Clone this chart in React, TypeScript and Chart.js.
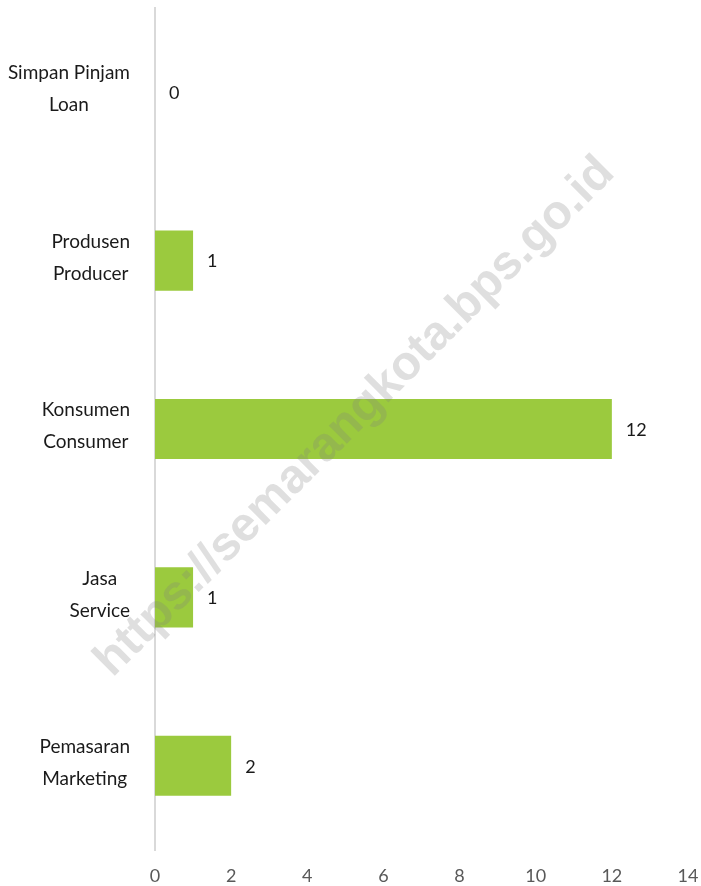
import React, { useEffect, useRef } from "react";
import { Chart, registerables } from "chart.js";

Chart.register(...registerables);

const labelsLocal = ["Simpan Pinjam", "Produsen", "Konsumen", "Jasa", "Pemasaran"];
const labelsEnglish = ["Loan", "Producer", "Consumer", "Service", "Marketing"];
const counts = [0, 1, 12, 1, 2];
const xMin = 0;
const xMax = 14;
const xStep = 2;
const watermarkText = "https://semarangkota.bps.go.id";

const FONT = "Lato, 'Open Sans', sans-serif";

const catLabelPlugin = {
  id: "catLabels",
  afterDraw(chart: any) {
    const { ctx } = chart;
    const yScale = chart.scales.y;
    const rightEdge = 130;
    const lineGap = 32;
    ctx.save();
    ctx.font = `19px ${FONT}`;
    ctx.fillStyle = "#1a1a1a";
    ctx.textAlign = "center";
    ctx.textBaseline = "middle";
    labelsLocal.forEach((l1, i) => {
      const l2 = labelsEnglish[i];
      const w = Math.max(ctx.measureText(l1).width, ctx.measureText(l2).width);
      const cx = rightEdge - w / 2;
      const cy = yScale.getPixelForValue(i) - 3;
      ctx.fillText(l1, cx, cy - lineGap / 2);
      ctx.fillText(l2, cx, cy + lineGap / 2);
    });
    ctx.restore();
  },
};

const valueLabelPlugin = {
  id: "valueLabels",
  afterDatasetsDraw(chart: any) {
    const { ctx } = chart;
    const meta = chart.getDatasetMeta(0);
    ctx.save();
    ctx.font = `18px ${FONT}`;
    ctx.fillStyle = "#1a1a1a";
    ctx.textAlign = "left";
    ctx.textBaseline = "middle";
    meta.data.forEach((bar: any, i: number) => {
      ctx.fillText(String(counts[i]), bar.x + 14, bar.y + 1);
    });
    ctx.restore();
  },
};

const watermarkPlugin = {
  id: "watermark",
  afterDraw(chart: any) {
    const { ctx } = chart;
    ctx.save();
    ctx.translate(355, 417);
    ctx.rotate(-Math.PI / 4);
    ctx.font = `bold 48px 'Liberation Sans', Arial, sans-serif`;
    ctx.fillStyle = "rgba(128,128,128,0.25)";
    ctx.textAlign = "center";
    ctx.textBaseline = "middle";
    ctx.fillText(watermarkText, 0, 0);
    ctx.restore();
  },
};

export default function App() {
  const ref = useRef<HTMLCanvasElement>(null);

  useEffect(() => {
    if (!ref.current) return;
    const chart = new Chart(ref.current, {
      type: "bar",
      data: {
        labels: labelsLocal,
        datasets: [
          {
            data: counts,
            backgroundColor: "#9bca3e",
            borderWidth: 0,
            barPercentage: 0.357,
            categoryPercentage: 1,
          },
        ],
      },
      options: {
        indexAxis: "y",
        animation: false,
        responsive: true,
        maintainAspectRatio: false,
        layout: { padding: { top: 8, right: 0, left: 0, bottom: 0 } },
        plugins: {
          legend: { display: false },
          tooltip: { enabled: false },
        },
        scales: {
          x: {
            min: xMin,
            max: xMax,
            grid: { display: false, drawTicks: false },
            border: { display: false },
            ticks: {
              stepSize: xStep,
              color: "#595959",
              font: { family: FONT, size: 18 },
              padding: 15,
            },
            afterFit(scale: any) {
              scale.height = 36;
              scale.paddingLeft = 0;
              scale.paddingRight = 13;
            },
          },
          y: {
            grid: { display: false, drawTicks: false },
            border: { display: true, color: "#d9d9d9", width: 2 },
            ticks: { display: false },
            afterFit(scale: any) {
              scale.width = 155;
            },
          },
        },
      },
      plugins: [valueLabelPlugin, catLabelPlugin, watermarkPlugin],
    });
    return () => chart.destroy();
  }, []);

  return (
    <div style={{ position: "absolute", left: 0, top: 0, width: 701, height: 886 }}>
      <canvas ref={ref} style={{ display: "block" }} />
    </div>
  );
}
